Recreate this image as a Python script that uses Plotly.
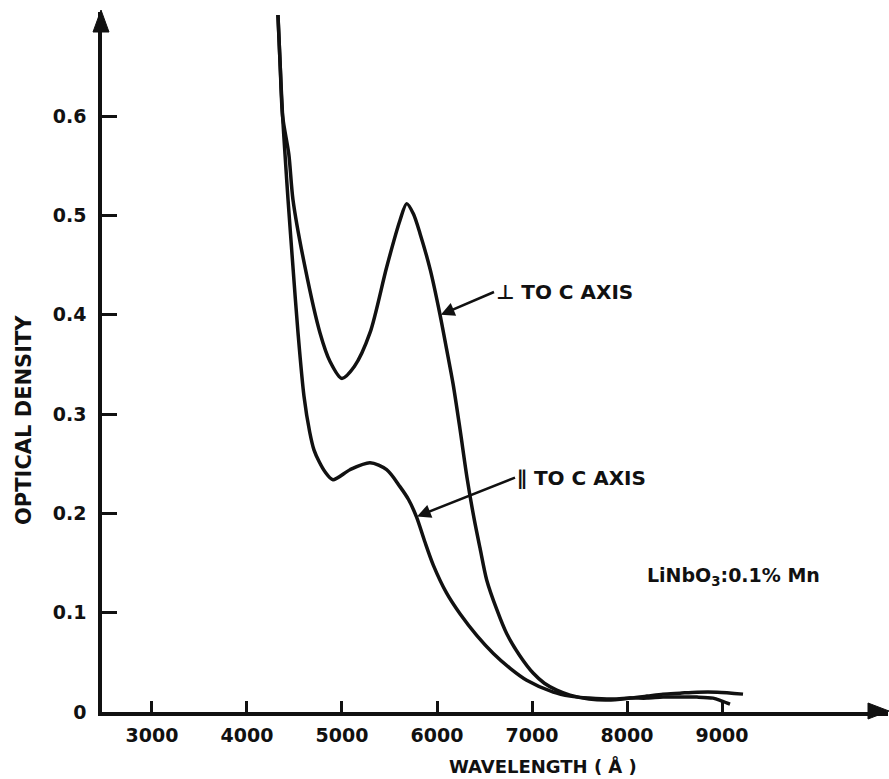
import plotly.graph_objects as go

# ---- data ----
perp_wl = [4326, 4350, 4375, 4440, 4484, 4611, 4768, 4874, 4997,
           5130, 5295, 5470, 5610, 5681, 5750, 5821, 5930, 6032, 6100, 6170, 6242,
           6316, 6390, 6453, 6523, 6630, 6733, 6870, 7014, 7130, 7260, 7400, 7600,
           7800, 8032, 8210, 8379, 8558, 8737, 8950, 9221]
perp_od = [0.702, 0.650, 0.600, 0.562, 0.516, 0.448, 0.382, 0.353, 0.336,
           0.348, 0.382, 0.448, 0.495, 0.512, 0.502, 0.482, 0.445, 0.400, 0.366, 0.330, 0.285,
           0.236, 0.195, 0.165, 0.133, 0.103, 0.079, 0.057, 0.039, 0.029, 0.022, 0.017, 0.013,
           0.012, 0.014, 0.016, 0.018, 0.019, 0.020, 0.020, 0.018]

par_wl = [4326, 4350, 4375, 4400, 4432, 4484, 4537, 4600, 4660, 4705, 4760, 4821, 4905, 5084,
          5295, 5470, 5610, 5700, 5786, 5870, 5961, 6100, 6242, 6420, 6593, 6770,
          6944, 7224, 7400, 7600, 7853, 8032, 8210, 8379, 8558, 8737, 8905, 9000, 9084]
par_od = [0.702, 0.650, 0.600, 0.562, 0.516, 0.448, 0.382, 0.318, 0.282, 0.264, 0.252, 0.242, 0.234, 0.244,
          0.251, 0.244, 0.227, 0.214, 0.196, 0.172, 0.148, 0.120, 0.099, 0.077, 0.059, 0.044,
          0.032, 0.020, 0.016, 0.014, 0.013, 0.014, 0.014, 0.015, 0.015, 0.015, 0.014, 0.011, 0.008]

x_ticks = [3000, 4000, 5000, 6000, 7000, 8000, 9000]
y_ticks = [0, 0.1, 0.2, 0.3, 0.4, 0.5, 0.6]
y_ticktext = ["0", "0.1", "0.2", "0.3", "0.4", "0.5", "0.6"]

FONT = "DejaVu Sans"
BLACK = "#111111"

fig = go.Figure()
for wl, od, name in [(perp_wl, perp_od, "⊥ to c axis"), (par_wl, par_od, "∥ to c axis")]:
    fig.add_trace(go.Scatter(
        x=wl, y=od, mode="lines", name=name,
        line=dict(color=BLACK, width=3.5, shape="spline", smoothing=0.8),
        showlegend=False, hoverinfo="skip"))

W, H = 889, 779
ML, MR, MT, MB = 102, 1, 12, 67
PW, PH = W - ML - MR, H - MT - MB

def px(xp):
    return (xp - ML) / PW

def py(yp):
    return (H - MB - yp) / PH

TF = dict(family=FONT, size=19, color=BLACK, weight="bold")

fig.update_layout(
    width=W, height=H,
    margin=dict(l=ML, r=MR, t=MT, b=MB, autoexpand=False),
    paper_bgcolor="white", plot_bgcolor="white",
    font=TF,
    xaxis=dict(range=[2474, 10747], showgrid=False, zeroline=False,
               showline=True, linecolor=BLACK, linewidth=3.5,
               ticks="inside", ticklen=11, tickwidth=2.5, tickcolor=BLACK,
               tickvals=x_ticks, ticktext=[str(v) for v in x_ticks],
               ticklabelstandoff=3, automargin=False, tickfont=TF),
    yaxis=dict(range=[0, 0.705], showgrid=False, zeroline=False,
               showline=True, linecolor=BLACK, linewidth=3.5,
               ticks="inside", ticklen=15, tickwidth=2.5, tickcolor=BLACK,
               tickvals=y_ticks, ticktext=y_ticktext,
               ticklabelstandoff=8, automargin=False, tickfont=TF),
)

# axis arrowheads
fig.add_shape(type="path", xref="paper", yref="paper",
              path=f"M {px(101)},{py(10)} L {px(93)},{py(32)} L {px(109)},{py(32)} Z",
              fillcolor=BLACK, line=dict(color=BLACK, width=1))
fig.add_shape(type="path", xref="paper", yref="paper",
              path=f"M {px(889)},{py(711)} L {px(868)},{py(703)} L {px(868)},{py(719)} Z",
              fillcolor=BLACK, line=dict(color=BLACK, width=1))

# axis titles
fig.add_annotation(xref="paper", yref="paper", x=px(543), y=py(766),
                   xanchor="center", yanchor="middle",
                   text="WAVELENGTH ( Å )", showarrow=False,
                   font=dict(family=FONT, size=18, color=BLACK, weight="bold"))
fig.add_annotation(xref="paper", yref="paper", x=px(24), y=py(420),
                   xanchor="center", yanchor="middle",
                   text="OPTICAL DENSITY", textangle=-90, showarrow=False,
                   font=dict(family=FONT, size=21, color=BLACK, weight="bold"))

# curve labels with arrows
fig.add_annotation(x=6040, y=0.400, ax=6600, ay=0.423, xref="x", yref="y",
                   axref="x", ayref="y", text="⊥ TO C AXIS", xanchor="left",
                   showarrow=True, arrowhead=2, arrowsize=1.1, arrowwidth=2.5,
                   arrowcolor=BLACK,
                   font=dict(family=FONT, size=20, color=BLACK, weight="bold"))
fig.add_annotation(x=5790, y=0.197, ax=6821, ay=0.236, xref="x", yref="y",
                   axref="x", ayref="y", text="∥ TO C AXIS", xanchor="left",
                   showarrow=True, arrowhead=2, arrowsize=1.1, arrowwidth=2.5,
                   arrowcolor=BLACK,
                   font=dict(family=FONT, size=20, color=BLACK, weight="bold"))
fig.add_annotation(x=9126, y=0.136, xref="x", yref="y",
                   xanchor="center", yanchor="middle",
                   text="LiNbO<sub>3</sub>:0.1% Mn", showarrow=False,
                   font=dict(family=FONT, size=19, color=BLACK, weight="bold"))

fig.write_html("out.html")
